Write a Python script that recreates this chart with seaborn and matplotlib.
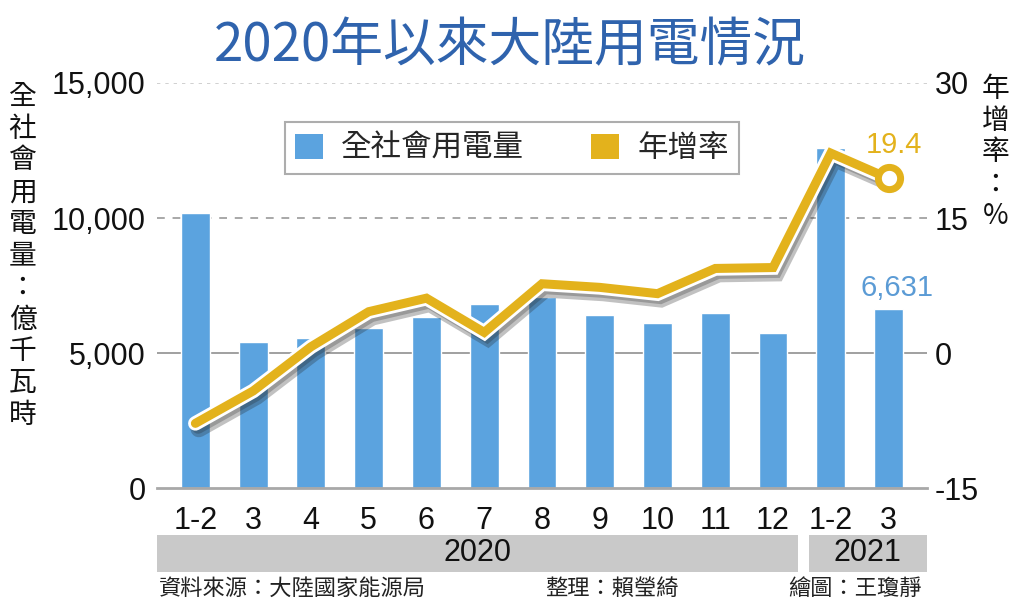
import matplotlib
matplotlib.use("Agg")
import matplotlib.pyplot as plt
import matplotlib.patheffects as pe
from matplotlib.patches import Patch, Rectangle
import matplotlib.transforms as mtrans
import seaborn as sns
import pandas as pd

# ---- data ----
months = ["1-2", "3", "4", "5", "6", "7", "8", "9", "10", "11", "12", "1-2", "3"]
power = [10186, 5415, 5572, 5936, 6350, 6824, 7070, 6400, 6110, 6480, 5740, 12588, 6631]
growth = [-7.8, -4.2, 0.7, 4.6, 6.1, 2.3, 7.7, 7.3, 6.6, 9.4, 9.5, 22.2, 19.4]
years = ["2020", "2021"]
year_counts = [11, 2]
left_ticks = [0, 5000, 10000, 15000]
left_ticklabels = ["0", "5,000", "10,000", "15,000"]
right_ticks = [-15, 0, 15, 30]
title = "2020年以來大陸用電情況"
legend_labels = ["全社會用電量", "年增率"]
left_label = "全社會用電量：億千瓦時"
right_label = "年增率：%"
footer = ["資料來源：大陸國家能源局", "整理：賴瑩綺", "繪圖：王瓊靜"]

BAR = "#5ba3df"
GOLD = "#e3b21c"
TITLE_BLUE = "#2f63ad"
CJK = ["Noto Sans CJK TC", "DejaVu Sans"]
NUM = ["Liberation Sans", "DejaVu Sans"]

sns.set_theme(style="white")
plt.rcParams["font.family"] = ["Liberation Sans", "Noto Sans CJK TC", "DejaVu Sans"]

df = pd.DataFrame({"pos": list(range(len(months))), "month": months,
                   "power": power, "growth": growth})

fig = plt.figure(figsize=(10.24, 6.05), dpi=100)
ax = fig.add_axes([0.153, 0.193, 0.752, 0.670])

# gridlines
ax.axhline(15000, color="#c8c8c8", lw=1.2, ls=(0, (2, 3)), zorder=0)
ax.axhline(10000, color="#a8a8a8", lw=1.4, ls=(0, (4, 4)), zorder=0)
ax.axhline(5000, color="#a0a0a0", lw=1.4, zorder=0)

sns.barplot(data=df, x="pos", y="power", color=BAR, width=0.5, ax=ax,
            saturation=1, zorder=2)
ax.set_xlim(-0.67, len(months) - 1 + 0.66)
ax.set_ylim(0, 15000)
ax.set_yticks(left_ticks)
ax.set_yticklabels(left_ticklabels, fontsize=22, family=NUM)
ax.set_xticks(range(len(months)))
ax.set_xticklabels(months, fontsize=22, family=NUM)
ax.set_xlabel("")
ax.set_ylabel("")
for s in ["left", "right", "top"]:
    ax.spines[s].set_visible(False)
ax.spines["bottom"].set_color("#a8a8a8")
ax.spines["bottom"].set_linewidth(2)
ax.tick_params(axis="x", length=7, width=1.2, color="#a8a8a8", pad=6, labelcolor="#111111")
ax.tick_params(axis="y", length=0, pad=8, labelcolor="#111111")

# secondary axis
ax2 = ax.twinx()
sns.lineplot(data=df, x="pos", y="growth", ax=ax2, color=GOLD, lw=6.5,
             solid_joinstyle="miter", solid_capstyle="round", zorder=5,
             path_effects=[pe.SimpleLineShadow(offset=(2.5, -4), shadow_color="#222222",
                                               alpha=0.28, rho=0.3, linewidth=12),
                           pe.SimpleLineShadow(offset=(2, -3), shadow_color="#222222",
                                               alpha=0.25, rho=0.3, linewidth=9),
                           pe.Stroke(linewidth=10.5, foreground="white"),
                           pe.Normal()])
ax2.plot(df["pos"].iloc[-1], df["growth"].iloc[-1], "o", ms=16, mfc="white",
         mec=GOLD, mew=5, zorder=6)
ax2.set_ylim(-15, 30)
ax2.set_yticks(right_ticks)
ax2.set_yticklabels([str(t) for t in right_ticks], fontsize=22, family=NUM)
ax2.set_ylabel("")
ax2.set_xlabel("")
for s in ["left", "right", "top", "bottom"]:
    ax2.spines[s].set_visible(False)
ax2.tick_params(axis="y", length=0, pad=6, labelcolor="#111111")
ax2.grid(False)
ax.grid(False)

# value annotations
ax2.annotate(f"{growth[-1]:.1f}", (len(months) - 1, growth[-1]), xytext=(4, 24),
             textcoords="offset points", ha="center", va="center",
             color=GOLD, fontsize=21, family=NUM)
ax.annotate(f"{power[-1]:,}", (len(months) - 1, power[-1]), xytext=(6, 15),
            textcoords="offset points", ha="center", va="center",
            color="#5b9bd5", fontsize=21, family=NUM)

# legend
handles = [Patch(facecolor=BAR, edgecolor="none"), Patch(facecolor=GOLD, edgecolor="none")]
leg = fig.legend(handles, legend_labels, loc="center", bbox_to_anchor=(0.5, 0.755),
                 ncol=2, frameon=True, fancybox=False,
                 prop={"family": CJK, "size": 22}, handlelength=0.9, handleheight=0.9,
                 handletextpad=0.6, columnspacing=2.2, borderpad=0.35)
leg.get_frame().set_edgecolor("#999999")
leg.get_frame().set_linewidth(1.5)

# year bands
trans = mtrans.blended_transform_factory(ax.transData, ax.transAxes)
bounds = []
edge = -0.67
for i, c in enumerate(year_counts):
    left = edge
    if i < len(year_counts) - 1:
        right = (sum(year_counts[:i + 1]) - 1) + 0.43
    else:
        right = len(months) - 1 + 0.66
    bounds.append((left, right))
    edge = right + 0.19
for (l, r), y in zip(bounds, years):
    ax.add_patch(Rectangle((l, -0.207), r - l, 0.091, transform=trans,
                           facecolor="#c9c9c9", edgecolor="none", clip_on=False))
    ax.text((l + r) / 2, -0.161, y, transform=trans, ha="center", va="center",
            fontsize=22, family=NUM, color="#111111")

# title
fig.text(0.498, 0.925, title, ha="center", va="center", fontsize=38,
         family=CJK, color=TITLE_BLUE)

# axis labels (vertical stacked)
fig.text(0.022, 0.865, "\n".join(left_label), ha="center", va="top",
         fontsize=20, family=CJK, linespacing=1.08, color="#111111")
fig.text(0.972, 0.878, "\n".join(right_label), ha="center", va="top",
         fontsize=20, family=CJK, linespacing=1.08, color="#111111")

# footer
fig.text(0.155, 0.027, footer[0], ha="left", va="center", fontsize=16, family=CJK, color="#222222")
fig.text(0.532, 0.027, footer[1], ha="left", va="center", fontsize=16, family=CJK, color="#222222")
fig.text(0.770, 0.027, footer[2], ha="left", va="center", fontsize=16, family=CJK, color="#222222")

fig.savefig("out.png", dpi=100)
